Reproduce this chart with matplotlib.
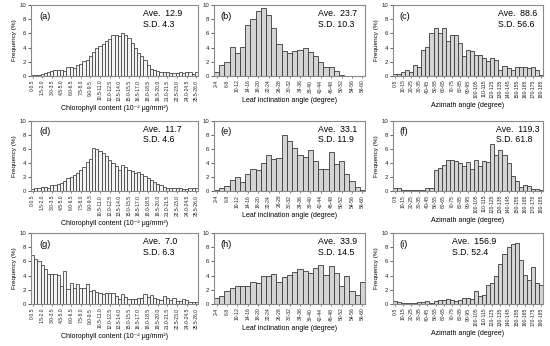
import matplotlib
matplotlib.use('Agg')
import matplotlib.pyplot as plt
import numpy as np

plt.rcParams['font.family'] = ['Liberation Sans', 'DejaVu Sans']

# ---------------- data ----------------
chl_ticklabels = ["0-0.5", "1.5-2.0", "3.0-3.5", "4.5-5.0", "6.0-6.5", "7.5-8.0", "9.0-9.5",
                  "10.5-11.0", "12.0-12.5", "13.5-14.0", "15.0-15.5", "16.5-17.0", "18.0-18.5",
                  "19.5-20.0", "21.0-21.5", "22.5-23.0", "24.0-24.5", "25.5-26.0"]
leaf_ticklabels = ["2-4", "6-8", "10-12", "14-16", "18-20", "22-24", "26-28", "30-32",
                   "34-36", "38-40", "42-44", "46-48", "50-52", "54-56", "58-60"]
azi_ticklabels = ["0-5", "10-15", "20-25", "30-35", "40-45", "50-55", "60-65", "70-75",
                  "80-85", "90-95", "100-105", "110-115", "120-125", "130-135", "140-145",
                  "150-155", "160-165", "170-175", "180-185"]

chl_a = [0.2, 0.2, 0.2, 0.3, 0.4, 0.5, 0.7, 0.8, 0.8, 0.8, 0.7, 1.2, 1.2, 1.1, 1.5, 1.7,
         2.1, 2.3, 2.8, 3.4, 3.9, 4.2, 4.5, 4.9, 5.2, 5.8, 5.8, 5.6, 6.0, 5.8, 5.3, 4.6,
         4.0, 3.3, 2.8, 2.2, 1.6, 1.0, 0.8, 0.7, 0.6, 0.55, 0.5, 0.45, 0.4, 0.4, 0.5, 0.45,
         0.6, 0.5, 0.3, 0.6]
chl_d = [0.3, 0.4, 0.5, 0.6, 0.6, 0.5, 0.8, 0.9, 1.0, 1.2, 1.5, 1.8, 2.0, 2.3, 2.6, 3.0,
         3.5, 4.1, 4.6, 6.2, 6.0, 5.7, 5.4, 5.0, 4.5, 4.0, 3.6, 3.0, 3.7, 3.4, 3.0, 2.8,
         2.6, 2.7, 2.4, 2.1, 1.8, 1.6, 1.3, 1.0, 0.8, 0.6, 0.5, 0.5, 0.4, 0.4, 0.4, 0.3,
         0.3, 0.4, 0.4, 0.4]
chl_g = [6.9, 6.3, 6.1, 5.5, 5.0, 4.2, 4.2, 4.2, 4.1, 2.6, 4.6, 2.1, 2.9, 2.3, 2.8, 2.2,
         2.2, 2.8, 1.8, 2.0, 1.7, 1.5, 1.4, 1.5, 1.6, 1.5, 1.1, 0.7, 1.4, 1.0, 0.7, 0.7,
         0.7, 0.9, 0.9, 1.4, 1.0, 1.2, 0.9, 0.7, 0.5, 1.1, 0.8, 0.6, 0.8, 0.4, 0.4, 0.7,
         0.5, 0.3, 0.3, 0.3]

leaf_b = [0.5, 1.6, 2.0, 4.1, 3.3, 4.1, 7.2, 8.0, 9.2, 9.6, 8.6, 6.8, 4.5, 3.5, 3.3, 3.5,
          3.6, 4.0, 3.4, 2.8, 2.0, 1.2, 1.2, 0.7, 0.2, 0.0, 0.0, 0.0, 0.0]
leaf_e = [0.2, 0.4, 0.7, 1.6, 2.0, 1.3, 2.4, 3.1, 3.0, 4.0, 5.1, 4.6, 4.7, 8.0, 7.1, 6.1,
          5.2, 4.9, 5.9, 4.3, 3.2, 3.2, 5.6, 3.9, 4.3, 2.4, 1.5, 0.6, 0.1]
leaf_h = [0.8, 1.1, 1.9, 2.2, 2.6, 2.6, 2.5, 3.1, 2.9, 3.9, 3.9, 4.2, 3.1, 3.8, 4.1, 4.5,
          4.9, 4.7, 4.4, 5.1, 5.5, 4.1, 5.3, 4.3, 2.5, 3.9, 1.8, 1.3, 3.1]

azi_c = [0.3, 0.3, 0.6, 0.9, 0.6, 1.6, 1.2, 3.6, 4.1, 6.1, 6.8, 6.1, 6.8, 4.9, 5.8, 5.8,
         4.6, 2.8, 3.7, 3.5, 2.9, 3.0, 2.5, 2.1, 2.6, 2.3, 0.9, 1.4, 1.1, 0.8, 1.2, 1.2,
         1.2, 1.1, 1.3, 0.9, 0.1]
azi_f = [0.4, 0.4, 0.1, 0.1, 0.1, 0.1, 0.1, 0.2, 0.5, 0.4, 3.0, 3.3, 3.7, 4.4, 4.4, 4.3,
         4.0, 3.6, 4.1, 3.1, 4.5, 3.6, 4.3, 4.2, 6.7, 5.1, 5.9, 5.2, 4.0, 2.2, 1.4, 0.6,
         0.9, 0.7, 0.3, 0.3, 0.2]
azi_i = [0.4, 0.3, 0.1, 0.2, 0.1, 0.2, 0.3, 0.3, 0.4, 0.2, 0.4, 0.5, 0.6, 0.7, 0.6, 0.4,
         0.6, 0.9, 0.8, 0.7, 1.9, 1.1, 1.2, 2.7, 3.0, 4.0, 5.6, 7.0, 8.0, 8.4, 8.6, 6.2,
         4.1, 3.4, 5.2, 2.9, 2.7]

panel_letters = ["(a)", "(b)", "(c)", "(d)", "(e)", "(f)", "(g)", "(h)", "(i)"]
aves = ["12.9", "23.7", "88.6", "11.7", "33.1", "119.3", "7.0", "33.9", "156.9"]
sds = ["4.3", "10.3", "56.6", "4.6", "11.9", "61.8", "6.3", "14.5", "52.4"]

xlabels = ["Chlorophyll content (10\u207b\u00b2 \u03bcg/mm\u00b2)",
           "Leaf inclination angle (degree)",
           "Azimath angle (degree)"]

# ---------------- layout ----------------
W, H = 550, 346
fig = plt.figure(figsize=(W / 100, H / 100), dpi=100)

cols = [(31, 198), (214, 365), (393, 543)]
rows = [(5, 76), (121, 191), (233, 304)]

series = [[chl_a, leaf_b, azi_c], [chl_d, leaf_e, azi_f], [chl_g, leaf_h, azi_i]]
ticksets = [(chl_ticklabels, 3), (leaf_ticklabels, 2), (azi_ticklabels, 2)]
fills = ["#f4f4f4", "#d4d4d4", "#d4d4d4"]
edge_w = [0.55, 0.6, 0.6]
ave_x = [[0.67, 0.69, 0.70], [0.67, 0.69, 0.69], [0.67, 0.69, 0.39]]

k = 0
for r, (top, bot) in enumerate(rows):
    for c, (left, right) in enumerate(cols):
        ax = fig.add_axes([left / W, 1 - bot / H, (right - left) / W, (bot - top) / H])
        vals = series[r][c]
        n = len(vals)
        x = np.arange(n)
        ax.bar(x, vals, width=1.0, color=fills[c], edgecolor="#3a3a3a", linewidth=edge_w[c])
        ax.set_xlim(-0.5, n - 0.5)
        ax.set_ylim(0, 10)
        ax.set_yticks([0, 2, 4, 6, 8, 10])
        ax.tick_params(axis='y', labelsize=4.3, length=2, width=0.5, pad=1.5, colors="#222222")
        labs, step = ticksets[c]
        ax.set_xticks(np.arange(0, len(labs) * step, step))
        ax.set_xticklabels(labs, rotation=90, fontsize=3.6)
        ax.tick_params(axis='x', length=1.2, width=0.4, pad=1.5, colors="#222222")
        for s in ax.spines.values():
            s.set_color("#8a8a8a")
            s.set_linewidth(0.8)
        ax.set_xlabel(xlabels[c], fontsize=5.0, labelpad=3)
        if c in (0, 2):
            ax.set_ylabel("Frequency (%)", fontsize=4.6, labelpad=2)
        ax.text(0.05 if c == 0 else 0.045, 0.845, panel_letters[k], transform=ax.transAxes,
                fontsize=6.6, ha='left', va='center')
        ax.text(ave_x[r][c], 0.885, "Ave.  " + aves[k], transform=ax.transAxes,
                fontsize=6.3, ha='left', va='center')
        ax.text(ave_x[r][c], 0.73, "S.D. " + sds[k], transform=ax.transAxes,
                fontsize=6.3, ha='left', va='center')
        k += 1

fig.savefig("out.png", dpi=100)
